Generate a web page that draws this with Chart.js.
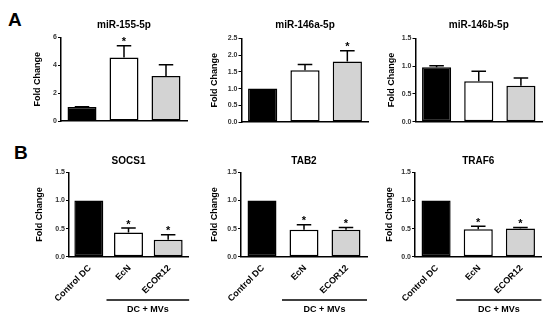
<!DOCTYPE html>
<html>
<head>
<meta charset="utf-8">
<script src="https://cdn.jsdelivr.net/npm/chart.js@4.4.1/dist/chart.umd.min.js"></script>
<style>
  body { margin: 0; background: #fff; width: 550px; height: 321px; position: relative; overflow: hidden;
         font-family: "Liberation Sans", Arial, sans-serif; }
  canvas { position: absolute; }
  .lbl { position: absolute; font-weight: bold; font-size: 19px; line-height: 1; }
</style>
</head>
<body>
<div class="lbl" style="left:8px;top:10px">A</div>
<div class="lbl" style="left:14px;top:143px">B</div>
<canvas id="a1"></canvas>
<canvas id="a2"></canvas>
<canvas id="a3"></canvas>
<canvas id="b1"></canvas>
<canvas id="b2"></canvas>
<canvas id="b3"></canvas>
<script>
// categories, shared by every panel
const categories = ['Control DC', 'EcN', 'ECOR12'];
const barColors = ['#000000', '#ffffff', '#d3d3d3'];

// panel A - miRNA expression (mean, SEM, significance)
const mir155Mean = [1.0, 4.56, 3.24];
const mir155Err  = [0.03, 0.84, 0.81];
const mir155Star = [false, true, false];

const mir146aMean = [1.0, 1.55, 1.81];
const mir146aErr  = [0.0, 0.17, 0.32];
const mir146aStar = [false, false, true];

const mir146bMean = [0.98, 0.73, 0.65];
const mir146bErr  = [0.03, 0.18, 0.14];
const mir146bStar = [false, false, false];

// panel B - target genes
const socs1Mean = [1.0, 0.43, 0.30];
const socs1Err  = [0.0, 0.08, 0.09];
const socs1Star = [false, true, true];

const tab2Mean = [1.0, 0.48, 0.48];
const tab2Err  = [0.0, 0.09, 0.04];
const tab2Star = [false, true, true];

const traf6Mean = [1.0, 0.49, 0.50];
const traf6Err  = [0.0, 0.05, 0.02];
const traf6Star = [false, true, true];

// y axis ticks
const yMaxA = [6, 2.5, 1.5];
const yStepA = [2, 0.5, 0.5];
const yMaxB = 1.5;
const yStepB = 0.5;

const font = '"Liberation Sans", Arial, sans-serif';

// error bars, asterisks, panel titles, x labels and the DC + MVs bracket
const extras = {
    id: 'extras',
    afterDatasetsDraw(chart, args, opts) {
        const ctx = chart.ctx;
        const y = chart.scales.y;
        const x = chart.scales.x;
        const area = chart.chartArea;
        const meta = chart.getDatasetMeta(0);
        ctx.save();
        ctx.strokeStyle = '#000';
        ctx.fillStyle = '#000';
        ctx.lineWidth = 1.5;
        meta.data.forEach((bar, i) => {
            const e = opts.err[i];
            const top = y.getPixelForValue(opts.mean[i] + e);
            const half = bar.width * 0.25;
            if (e > 0) {
                ctx.beginPath();
                ctx.moveTo(bar.x, bar.y);
                ctx.lineTo(bar.x, top);
                ctx.moveTo(bar.x - half, top);
                ctx.lineTo(bar.x + half, top);
                ctx.stroke();
            }
            if (opts.star[i]) {
                ctx.font = 'bold 11px ' + font;
                ctx.textAlign = 'center';
                ctx.textBaseline = 'alphabetic';
                ctx.fillText('*', bar.x, top - 0.5);
            }
        });
        // title
        ctx.font = 'bold 10px ' + font;
        ctx.textAlign = 'center';
        ctx.textBaseline = 'middle';
        ctx.fillText(opts.title, (area.left + area.right) / 2, opts.titleY);
        if (opts.group) {
            // category labels at 45 degrees
            ctx.font = 'bold 9px ' + font;
            ctx.textAlign = 'right';
            ctx.textBaseline = 'middle';
            categories.forEach((c, i) => {
                ctx.save();
                ctx.translate(x.getPixelForValue(i) + 1, area.bottom + 10);
                ctx.rotate(-Math.PI / 4);
                ctx.fillText(c, 0, 0);
                ctx.restore();
            });
            // group bracket
            const x1 = x.getPixelForValue(1) - 22;
            const x2 = x.getPixelForValue(2) + 21;
            ctx.beginPath();
            ctx.moveTo(x1, opts.groupY);
            ctx.lineTo(x2, opts.groupY);
            ctx.stroke();
            ctx.textAlign = 'center';
            ctx.fillText('DC + MVs', (x1 + x2) / 2, opts.groupY + 10);
        }
        ctx.restore();
    }
};

function makePanel(p) {
    const cv = document.getElementById(p.id);
    cv.width = p.cw; cv.height = p.ch;
    cv.style.left = p.cl + 'px'; cv.style.top = p.ct + 'px';
    cv.style.width = p.cw + 'px'; cv.style.height = p.ch + 'px';
    const titleFont = { family: font, size: 9, weight: 'bold' };
    new Chart(cv, {
        type: 'bar',
        data: {
            labels: categories,
            datasets: [{
                data: p.mean,
                backgroundColor: barColors,
                borderColor: '#000',
                borderWidth: 1.5,
                borderSkipped: false,
                categoryPercentage: 1,
                barPercentage: p.barPct
            }]
        },
        options: {
            responsive: false,
            animation: false,
            devicePixelRatio: 1,
            layout: { padding: { left: 0, right: p.cl + p.cw - p.R, top: p.T - p.ct, bottom: 0 } },
            plugins: {
                legend: { display: false },
                tooltip: { enabled: false },
                extras: {
                    mean: p.mean, err: p.err, star: p.star, title: p.title,
                    titleY: p.titleY - p.ct, group: p.showX, groupY: 300 - p.ct
                }
            },
            scales: {
                x: {
                    grid: { display: false },
                    border: { color: '#000', width: 1.5 },
                    ticks: { display: false },
                    afterFit(s) { s.height = p.ct + p.ch - p.B; }
                },
                y: {
                    min: 0, max: p.yMax,
                    ticks: {
                        stepSize: p.yStep, padding: 1, color: '#333',
                        font: { family: font, size: 7, weight: 'bold' },
                        callback: v => p.yStep >= 1 ? String(v) : v.toFixed(1)
                    },
                    grid: { display: true, drawOnChartArea: false, drawTicks: true, tickLength: 3, color: '#000', lineWidth: 1 },
                    border: { color: '#000', width: 1.5 },
                    title: {
                        display: true, text: 'Fold Change', color: '#000', font: titleFont,
                        padding: { top: p.L - p.gap - p.cl - 5.4, bottom: 0 }
                    },
                    afterFit(s) { s.width = p.L - p.cl; }
                }
            }
        },
        plugins: [extras]
    });
}

makePanel({ id: 'a1', cl: 0, ct: 0, cw: 192, ch: 130, L: 61, R: 187, T: 37.5, B: 121, gap: 23,
            mean: mir155Mean, err: mir155Err, star: mir155Star, title: 'miR-155-5p', titleY: 25,
            yMax: yMaxA[0], yStep: yStepA[0], barPct: 0.69, showX: false });
makePanel({ id: 'a2', cl: 192, ct: 0, cw: 180, ch: 130, L: 241.5, R: 368.5, T: 38.5, B: 122, gap: 27,
            mean: mir146aMean, err: mir146aErr, star: mir146aStar, title: 'miR-146a-5p', titleY: 25,
            yMax: yMaxA[1], yStep: yStepA[1], barPct: 0.69, showX: false });
makePanel({ id: 'a3', cl: 372, ct: 0, cw: 178, ch: 130, L: 415.5, R: 542, T: 38.5, B: 121.7, gap: 24,
            mean: mir146bMean, err: mir146bErr, star: mir146bStar, title: 'miR-146b-5p', titleY: 25,
            yMax: yMaxA[2], yStep: yStepA[2], barPct: 0.69, showX: false });
makePanel({ id: 'b1', cl: 0, ct: 130, cw: 192, ch: 191, L: 69, R: 188, T: 172.3, B: 256.7, gap: 29,
            mean: socs1Mean, err: socs1Err, star: socs1Star, title: 'SOCS1', titleY: 161,
            yMax: yMaxB, yStep: yStepB, barPct: 0.73, showX: true });
makePanel({ id: 'b2', cl: 192, ct: 130, cw: 180, ch: 191, L: 241, R: 367, T: 172.3, B: 256.7, gap: 26,
            mean: tab2Mean, err: tab2Err, star: tab2Star, title: 'TAB2', titleY: 161,
            yMax: yMaxB, yStep: yStepB, barPct: 0.69, showX: true });
makePanel({ id: 'b3', cl: 372, ct: 130, cw: 178, ch: 191, L: 415, R: 541.5, T: 172.3, B: 256.7, gap: 25.5,
            mean: traf6Mean, err: traf6Err, star: traf6Star, title: 'TRAF6', titleY: 161,
            yMax: yMaxB, yStep: yStepB, barPct: 0.69, showX: true });
</script>
</body>
</html>
